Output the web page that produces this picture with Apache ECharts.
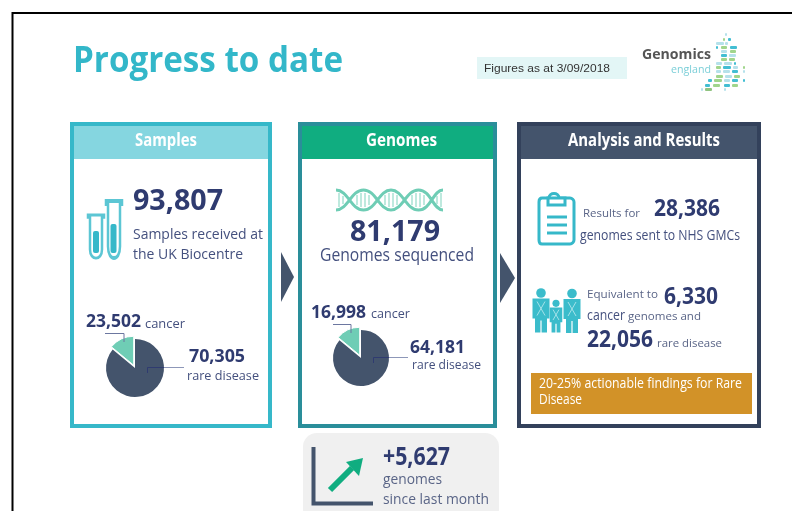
<!DOCTYPE html>
<html>
<head>
<meta charset="utf-8">
<title>Progress to date</title>
<script src="https://cdn.jsdelivr.net/npm/echarts@6/dist/echarts.min.js"></script>
<style>
  html, body { margin: 0; padding: 0; background: #fff; }
  #chart { width: 792px; height: 511px; }
</style>
</head>
<body>
<div id="chart"></div>
<script>
// Figures printed on the slide
const cardTitles = ['Samples', 'Genomes', 'Analysis and Results'];
const sampleCounts = ['93,807', '23,502', '70,305'];
const genomeCounts = ['81,179', '16,998', '64,181'];
const resultCounts = ['28,386', '6,330', '22,056'];
const monthlyChange = '+5,627';

// Pie shares as drawn, [cancer, rare disease]. The slide's wedges are smaller
// than the printed figures would give, so these are read off the picture.
const samplesPieShares = [14, 86];
const genomesPieShares = [14, 86];
const pieNames = ['cancer', 'rare disease'];

const NAVY = '#2f3b70';
const SLATE = '#44546c';
const TEAL = '#36b8c9';
const MINT = '#6fcdb5';
const FONT = '"Open Sans", sans-serif';

const measureCtx = document.createElement('canvas').getContext('2d');
const items = [];
let iconCount = 0;

// Text fitted to a target width, the original face is narrower than Open Sans
function label(str, x, cy, width, size, color, weight, family) {
    const fam = family || FONT;
    const wt = weight || 'normal';
    measureCtx.font = wt + ' ' + size + 'px ' + fam;
    const sx = width / measureCtx.measureText(str).width;
    items.push({
        type: 'text', x: x, y: cy + 1, scaleX: sx, z: 20, silent: true,
        style: { text: str, x: 0, y: 0, fill: color, font: wt + ' ' + size + 'px ' + fam, textAlign: 'left', textVerticalAlign: 'middle' }
    });
}

function box(x, y, w, h, fill, r, z) {
    items.push({ type: 'rect', z: z || 1, silent: true, shape: { x: x, y: y, width: w, height: h, r: r || 0 }, style: { fill: fill } });
}

function line(points, color, width, z) {
    items.push({ type: 'polyline', z: z || 20, silent: true, shape: { points: points }, style: { stroke: color, lineWidth: width, fill: null } });
}

function poly(points, fill, z) {
    items.push({ type: 'polygon', z: z || 3, silent: true, shape: { points: points }, style: { fill: fill } });
}

// The graphic component has no plain path type, so icons are registered as shapes
function icon(d, x, y, sx, sy, style) {
    const name = 'slideIcon' + (iconCount++);
    echarts.graphic.registerShape(name, echarts.graphic.extendPath(d, {}));
    items.push({ type: name, x: x, y: y, scaleX: sx, scaleY: sy, z: 4, silent: true, style: style });
}

function card(x, w, border, header, title, titleX, titleW) {
    box(x, 122, w, 306, border);
    box(x + 4, 159, w - 8, 265, '#fff');
    box(x + 4, 126, w - 8, 33, header);
    label(title, titleX, 140, titleW, 18, '#fff', '700');
}

// slide frame
line([[12.5, 511], [12.5, 13], [792, 13]], '#000', 2);

// heading
label('Progress to date', 73, 61, 270, 36, '#33b7c9', '700');
box(477, 57, 150, 22, '#e3f6f6');
label('Figures as at 3/09/2018', 484, 68, 126, 11, '#333', 'normal', '"Liberation Sans", sans-serif');

// logo
label('Genomics', 642, 54, 69, 15, '#555', '700');
label('england', 671, 69, 40, 11, '#7ccfd8', 'normal');
const logoDots = [
    [725, 33, 2, '#a8dce6'],
    [723, 38, 2, '#8fce78'], [728, 38, 3, '#22b3cb'],
    [716, 42, 8, '#a8dce6'], [725, 42, 3, '#a8dce6'],
    [716, 46, 2, '#22b3cb'], [721, 46, 6, '#8fce78'], [730, 46, 7, '#22b3cb'],
    [721, 50, 6, '#a8dce6'], [730, 50, 6, '#8fce78'],
    [721, 54, 6, '#22b3cb'], [729, 54, 7, '#a8dce6'],
    [721, 58, 6, '#8fce78'], [729, 58, 6, '#8fce78'],
    [716, 62, 6, '#a8dce6'], [724, 62, 8, '#a8dce6'], [734, 62, 2, '#22b3cb'],
    [716, 66, 5, '#8fce78'], [723, 66, 8, '#22b3cb'], [733, 66, 5, '#a8dce6'], [743, 66, 2, '#8fce78'],
    [716, 70, 5, '#a8dce6'], [723, 70, 7, '#a8dce6'], [732, 70, 6, '#22b3cb'], [743, 70, 2, '#a8dce6'],
    [716, 75, 7, '#8fce78'], [725, 75, 7, '#a8dce6'], [734, 75, 6, '#8fce78'],
    [708, 79, 4, '#22b3cb'], [714, 79, 8, '#8fce78'], [724, 79, 6, '#a8dce6'], [732, 79, 6, '#22b3cb'], [743, 79, 2, '#22b3cb'],
    [705, 84, 5, '#22b3cb'], [713, 84, 7, '#8fce78'], [724, 84, 6, '#22b3cb'], [732, 84, 6, '#8fce78'],
    [701, 88, 2, '#a8dce6'], [705, 88, 7, '#7cb96a'], [724, 88, 2, '#a8dce6']
];
logoDots.forEach(function (d) {
    items.push({ type: 'rect', z: 5, silent: true, shape: { x: d[0], y: d[1], width: d[2], height: 3, r: 1 }, style: { fill: d[3], opacity: 0.85 } });
});

// cards
card(70, 202, TEAL, '#85d6e0', cardTitles[0], 135, 62);
card(298, 199, '#2a8e9a', '#10ad80', cardTitles[1], 366, 71);
card(517, 244, '#33415b', SLATE, cardTitles[2], 568, 152);

// chevrons between the cards
poly([[281, 252], [294, 277], [281, 302]], SLATE);
poly([[500, 253], [515, 278], [500, 303]], SLATE);

// samples
label(sampleCounts[0], 133, 201, 90, 28, NAVY, '700');
label('Samples received at', 133, 234, 130, 14.5, '#44507e');
label('the UK Biocentre', 133, 254, 110, 14.5, '#44507e');
const tubePath = 'M0 0H16V2H14V30C14 40 2 40 2 30V2H0Z';
icon(tubePath, 88, 215, 1, 1.15, { fill: '#fff', stroke: '#5cc6d4', lineWidth: 2.5 });
icon(tubePath, 106, 201, 1, 1.52, { fill: '#fff', stroke: '#5cc6d4', lineWidth: 2.5 });
box(93, 231, 6, 22, TEAL, 2, 6);
box(110.5, 224, 6, 29, TEAL, 2, 6);
label(sampleCounts[1], 86, 321, 55, 17, NAVY, '700');
label(pieNames[0], 145, 323, 40, 13.5, '#44507e');
label(sampleCounts[2], 189, 356, 56, 18, NAVY, '700');
label(pieNames[1], 187, 375, 72, 13.5, '#44507e');
line([[105, 333.5], [124, 333.5], [124, 342]], '#6c77a0', 1);
line([[147.5, 373], [147.5, 367.5], [164, 367.5]], NAVY, 1);
line([[164, 367.5], [184, 367.5]], '#8d97b8', 1);

// genomes
const dnaPath = 'M0 0C12 0 15 20 27.5 20C40 20 43 0 55 0C67 0 70 20 82.5 20C95 20 97 0 107 0' +
    'M0 20C12 20 15 0 27.5 0C40 0 43 20 55 20C67 20 70 0 82.5 0C95 0 97 20 107 20';
const dnaRungs = 'M3 3V17M7 6V14M21 5V15M25 3V17M29 3V17M33 5V15M49 5V15M53 3V17M57 3V17M61 5V15M76 5V15M80 3V17M84 3V17M88 5V15M101 6V14M105 3V17';
icon(dnaRungs, 336, 190, 1, 1, { fill: null, stroke: '#a9e2d3', lineWidth: 1.5 });
icon(dnaPath, 336, 190, 1, 1, { fill: null, stroke: MINT, lineWidth: 3 });
label(genomeCounts[0], 350, 232, 90, 28, NAVY, '700');
label('Genomes sequenced', 320, 255, 154, 18, '#44507e');
label(genomeCounts[1], 311, 312, 55, 17, NAVY, '700');
label(pieNames[0], 371, 313, 39, 13.5, '#44507e');
label(genomeCounts[2], 410, 347, 55, 18, NAVY, '700');
label(pieNames[1], 412, 364, 69, 13.5, '#44507e');
line([[333, 324.5], [351, 324.5], [351, 333]], '#6c77a0', 1);
line([[373.5, 363], [373.5, 357.5], [389, 357.5]], NAVY, 1);
line([[389, 357.5], [408, 357.5]], '#8d97b8', 1);

// change since last month
box(303, 433, 196, 90, '#f0f0f0', 14);
line([[313.5, 447], [313.5, 503.5], [373, 503.5]], SLATE, 4);
line([[330, 490], [352, 468]], '#10ad80', 6);
poly([[363, 458], [346, 462], [359, 476]], '#10ad80', 21);
label(monthlyChange, 383, 457, 67, 25, NAVY, '700');
label('genomes', 383, 479, 59, 14.5, '#5a6587');
label('since last month', 383, 499, 106, 14.5, '#5a6587');

// analysis and results
icon('M3 5H10C10 -1 20 -1 20 5H31C33 5 35 7 35 9V47C35 49 33 51 31 51H3C1 51 0 49 0 47V9C0 7 1 5 3 5Z',
    539, 193, 1, 1, { fill: '#fff', stroke: TEAL, lineWidth: 3 });
icon('M9 5H26V12H9Z', 539, 193, 1, 1, { fill: '#fff', stroke: TEAL, lineWidth: 3 });
line([[547, 217], [567, 217]], TEAL, 3);
line([[547, 225], [567, 225]], TEAL, 3);
line([[547, 233], [567, 233]], TEAL, 3);
label('Results for', 583, 213, 57, 10.5, '#5a6587', 'normal');
label(resultCounts[0], 654, 208, 66, 23, NAVY, '700');
label('genomes sent to NHS GMCs', 580, 235, 160, 15, '#44507e');

// family icon
function person(cx, top, scale) {
    items.push({
        type: 'circle', z: 4, silent: true,
        shape: { cx: cx, cy: top + 4.5 * scale, r: 4.8 * scale }, style: { fill: '#3bbccb' }
    });
    const w = 8.5 * scale;
    const s = top + 10 * scale;
    poly([[cx - w, s], [cx + w, s], [cx + w, s + 20 * scale], [cx + 6 * scale, s + 20 * scale], [cx + 6 * scale, s + 34 * scale],
        [cx + 0.6, s + 34 * scale], [cx + 0.6, s + 22 * scale], [cx - 0.6, s + 22 * scale], [cx - 0.6, s + 34 * scale],
        [cx - 6 * scale, s + 34 * scale], [cx - 6 * scale, s + 20 * scale], [cx - w, s + 20 * scale]], '#3bbccb', 4);
    line([[cx - 4 * scale, s + 3 * scale], [cx + 4 * scale, s + 17 * scale]], '#a5e2e9', 1, 5);
    line([[cx + 4 * scale, s + 3 * scale], [cx - 4 * scale, s + 17 * scale]], '#a5e2e9', 1, 5);
}
person(541, 288.5, 1);
person(556, 300, 0.74);
person(572, 289, 1);
label('Equivalent to', 587, 294, 71, 10.5, '#5a6587', 'normal');
label(resultCounts[1], 664, 296, 54, 24, NAVY, '700');
label('cancer', 587, 315, 38, 15, '#44507e');
label('genomes and', 628, 316, 73, 10.5, '#5a6587', 'normal');
label(resultCounts[2], 587, 339, 66, 24, NAVY, '700');
label('rare disease', 657, 343, 65, 10.5, '#5a6587', 'normal');

box(531, 373, 221, 41, '#d29228', 0, 3);
label('20-25% actionable findings for Rare', 539, 383, 203, 15, '#fff');
label('Disease', 539, 399, 43, 15, '#fff');

function pieSeries(center, radius, shares) {
    return {
        type: 'pie',
        z: 8,
        center: center,
        radius: radius,
        startAngle: 90,
        clockwise: false,
        selectedMode: 'multiple',
        selectedOffset: 3,
        silent: true,
        label: { show: false },
        labelLine: { show: false },
        data: [
            { name: pieNames[0], value: shares[0], selected: true, itemStyle: { color: MINT, borderColor: '#fff', borderWidth: 1 } },
            { name: pieNames[1], value: shares[1], itemStyle: { color: SLATE } }
        ]
    };
}

const chart = echarts.init(document.getElementById('chart'), null, { renderer: 'canvas' });
chart.setOption({
    animation: false,
    backgroundColor: '#fff',
    graphic: { elements: items },
    series: [
        pieSeries([135, 368], 29, samplesPieShares),
        pieSeries([361, 358], 28, genomesPieShares)
    ]
});
</script>
</body>
</html>
